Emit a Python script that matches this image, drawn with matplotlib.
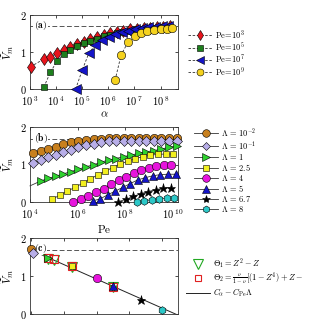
import numpy as np
import matplotlib
matplotlib.use("Agg")
import matplotlib.pyplot as plt
from matplotlib.ticker import FixedLocator, FuncFormatter, NullLocator
from matplotlib.lines import Line2D

plt.rcParams["mathtext.fontset"] = "cm"
plt.rcParams["font.family"] = "serif"
plt.rcParams["font.serif"] = ["DejaVu Serif"]

# ---- panel (a): V_m vs alpha, one series per Pe (log10 alpha, V) ----
pe_labels = ["3", "5", "7", "9"]
a_red_x = [3.02, 3.53, 3.78, 4.04, 4.29, 4.55, 4.80, 5.05, 5.31, 5.56, 5.82,
           6.07, 6.33, 6.58, 6.84, 7.09, 7.35, 7.60, 7.86, 8.11, 8.37]
a_red_y = [0.60, 0.81, 0.87, 0.97, 1.05, 1.13, 1.21, 1.28, 1.34, 1.40, 1.45,
           1.50, 1.54, 1.58, 1.61, 1.63, 1.65, 1.66, 1.67, 1.68, 1.69]
a_green_x = [3.53, 3.78, 4.04, 4.29, 4.55, 4.80, 5.05, 5.31, 5.56, 5.82,
             6.07, 6.33, 6.58, 6.84, 7.09, 7.35, 7.60, 7.86, 8.11, 8.37]
a_green_y = [0.05, 0.45, 0.76, 0.95, 1.05, 1.15, 1.23, 1.30, 1.36, 1.42,
             1.47, 1.51, 1.55, 1.58, 1.61, 1.63, 1.65, 1.66, 1.67, 1.68]
a_blue_x = [4.75, 5.00, 5.25, 5.50, 5.76, 6.01, 6.26, 6.52, 6.77, 7.03,
            7.28, 7.53, 7.79, 8.04, 8.30]
a_blue_y = [0.00, 0.51, 0.96, 1.19, 1.33, 1.41, 1.48, 1.54, 1.58, 1.62,
            1.65, 1.67, 1.68, 1.69, 1.70]
a_yellow_x = [6.26, 6.49, 6.75, 7.03, 7.24, 7.50, 7.75, 8.01, 8.24, 8.45]
a_yellow_y = [0.24, 0.92, 1.26, 1.44, 1.51, 1.56, 1.59, 1.61, 1.63, 1.66]

# ---- panel (b): V_m vs Pe, one series per Lambda (log10 Pe, V) ----
lam_labels = [r"10^{-2}", r"10^{-1}", "1", "2.5", "4", "5", "6.7", "8"]
b_orange_x = [4.14, 4.45, 4.77, 5.09, 5.40, 5.71, 6.03, 6.35, 6.67, 6.98,
              7.30, 7.62, 7.94, 8.25, 8.57, 8.89, 9.21, 9.52, 9.84, 10.16]
b_orange_y = [1.31, 1.37, 1.42, 1.48, 1.54, 1.59, 1.63, 1.66, 1.68, 1.69,
              1.70, 1.70, 1.70, 1.70, 1.70, 1.70, 1.70, 1.70, 1.70, 1.70]
b_lav_x = b_orange_x
b_lav_y = [1.03, 1.11, 1.19, 1.26, 1.33, 1.40, 1.46, 1.51, 1.55, 1.59,
           1.62, 1.63, 1.64, 1.64, 1.64, 1.64, 1.64, 1.64, 1.64, 1.64]
b_green_x = [4.00, 4.45, 4.77, 5.09, 5.40, 5.71, 6.03, 6.35, 6.67, 6.98,
             7.30, 7.62, 7.94, 8.25, 8.57, 8.89, 9.21, 9.52, 9.84, 10.16]
b_green_y = [0.43, 0.56, 0.63, 0.69, 0.75, 0.81, 0.87, 0.94, 0.99, 1.06,
             1.12, 1.16, 1.21, 1.25, 1.30, 1.34, 1.37, 1.41, 1.46, 1.49]
b_yellow_x = [4.94, 5.25, 5.57, 5.89, 6.21, 6.52, 6.84, 7.16, 7.48, 7.79,
              8.11, 8.43, 8.75, 9.06, 9.38, 9.70, 10.02]
b_yellow_y = [0.08, 0.18, 0.29, 0.39, 0.50, 0.61, 0.72, 0.82, 0.92, 1.01,
              1.09, 1.16, 1.21, 1.25, 1.27, 1.28, 1.28]
b_mag_x = [5.82, 6.14, 6.45, 6.77, 7.09, 7.40, 7.72, 8.04, 8.36, 8.67,
           8.99, 9.31, 9.63, 9.94]
b_mag_y = [0.01, 0.07, 0.16, 0.26, 0.36, 0.47, 0.58, 0.68, 0.78, 0.86,
           0.92, 0.96, 0.98, 0.98]
b_blue_x = [6.63, 6.94, 7.26, 7.58, 7.90, 8.21, 8.53, 8.85, 9.17, 9.48,
            9.80, 10.12]
b_blue_y = [0.03, 0.08, 0.19, 0.29, 0.39, 0.49, 0.59, 0.65, 0.70, 0.73,
            0.74, 0.74]
b_black_x = [7.71, 8.03, 8.34, 8.66, 8.98, 9.29, 9.61, 9.93]
b_black_y = [0.01, 0.07, 0.15, 0.22, 0.28, 0.33, 0.37, 0.38]
b_cyan_x = [8.48, 8.80, 9.11, 9.43, 9.75, 10.06]
b_cyan_y = [0.00, 0.03, 0.06, 0.08, 0.10, 0.10]

# ---- panel (c): V_m vs Lambda ----
c_lam = [0.01, 0.1, 1.0, 2.5, 4.0, 5.0, 6.7, 8.0]
c_v = [1.70, 1.60, 1.48, 1.27, 0.96, 0.74, 0.37, 0.10]
c_theta_lam = [1.0, 1.4, 2.5, 5.0]
c_theta1 = [1.46, 1.41, 1.23, 0.70]
c_theta2 = [1.48, 1.44, 1.26, 0.72]
C_alpha = 1.68
C_pe = 0.19
V_inf = 1.69

W, H = 318, 321
fig = plt.figure(figsize=(W / 100, H / 100), dpi=100)
ax_a = fig.add_axes([30 / W, 1 - 89 / H, 148 / W, 74 / H])
ax_b = fig.add_axes([30 / W, 1 - 202 / H, 148 / W, 75 / H])
ax_c = fig.add_axes([30 / W, 1 - 314 / H, 148 / W, 76 / H])


def style(ax):
    ax.tick_params(direction="in", top=True, right=True, length=2.5, width=0.5,
                   labelsize=7.5, pad=2.5)
    ax.tick_params(axis="x", pad=4)
    for s in ax.spines.values():
        s.set_linewidth(0.6)
        s.set_color("#333333")
    ax.set_ylim(0, 2)
    ax.yaxis.set_major_locator(FixedLocator([0, 1, 2]))
    ax.yaxis.set_major_formatter(FuncFormatter(lambda v, p: r"$%d$" % v))
    ax.set_ylabel(r"$\widetilde{V}_m$", fontsize=8, labelpad=3)
    ax.axhline(V_inf, color="#555555", lw=0.7, dashes=(5, 2.5), zorder=1)


log_fmt = FuncFormatter(lambda v, p: r"$10^{\;%d}$" % round(np.log10(v)))
edge = dict(mec="black", mew=0.4, clip_on=False, zorder=3)
leg_kw = dict(bbox_transform=fig.transFigure, frameon=False, fontsize=6,
              handlelength=2.9, handletextpad=0.3, borderpad=0,
              borderaxespad=0, loc="upper left")

# (a)
style(ax_a)
ax_a.set_xscale("log")
ax_a.set_xlim(1e3, 10 ** 8.67)
ax_a.xaxis.set_major_locator(FixedLocator([10.0 ** k for k in range(3, 9)]))
ax_a.xaxis.set_major_formatter(log_fmt)
ax_a.xaxis.set_minor_locator(NullLocator())
ax_a.set_xlabel(r"$\alpha$", fontsize=8, labelpad=1)
a_series = [(a_red_x, a_red_y, "d", "#e8141c", 6.5),
            (a_green_x, a_green_y, "s", "#1d7f1d", 5.0),
            (a_blue_x, a_blue_y, "<", "#1414c8", 6.5),
            (a_yellow_x, a_yellow_y, "o", "#f5d21e", 6.0)]
a_handles = []
for (xs, ys, m, c, ms), lab in zip(a_series, pe_labels):
    ax_a.plot(10 ** np.array(xs), ys, color="#333333", lw=0.6, dashes=(3, 2),
              marker=m, mfc=c, ms=ms, **edge)
    a_handles.append(Line2D([], [], color="#333333", lw=0.6, dashes=(3, 2),
                            marker=m, mfc=c, mec="black", mew=0.4, ms=ms - 1,
                            label=r"$\mathrm{Pe}\!=\!10^{%s}$" % lab))
ax_a.text(0.025, 0.95, r"$\mathbf{(a)}$", transform=ax_a.transAxes, fontsize=7,
          va="top", ha="left", bbox=dict(fc="white", ec="none", pad=0.5), zorder=2)
ax_a.legend(handles=a_handles, bbox_to_anchor=(188 / W, 1 - 28 / H),
            labelspacing=-0.05, **leg_kw)

# (b)
style(ax_b)
ax_b.set_xscale("log")
ax_b.set_xlim(1e4, 10 ** 10.22)
ax_b.xaxis.set_major_locator(FixedLocator([1e4, 1e6, 1e8, 1e10]))
ax_b.xaxis.set_major_formatter(log_fmt)
ax_b.xaxis.set_minor_locator(NullLocator())
ax_b.set_xlabel(r"$\mathrm{Pe}$", fontsize=8, labelpad=1)
b_series = [(b_orange_x, b_orange_y, "o", "#c8801e", 6.0),
            (b_lav_x, b_lav_y, "D", "#b8aee8", 5.0),
            (b_green_x, b_green_y, ">", "#2ed22e", 6.0),
            (b_yellow_x, b_yellow_y, "s", "#f2ef1e", 5.0),
            (b_mag_x, b_mag_y, "o", "#e614dc", 6.0),
            (b_blue_x, b_blue_y, "^", "#1414c8", 6.0),
            (b_black_x, b_black_y, "*", "black", 6.5),
            (b_cyan_x, b_cyan_y, "h", "#2cc8c8", 5.5)]
b_handles = []
for (xs, ys, m, c, ms), lab in zip(b_series, lam_labels):
    mk = list(range(1, len(xs))) if xs[0] == 4.0 else None
    ax_b.plot(10 ** np.array(xs), ys, color="#333333", lw=0.6, marker=m, mfc=c,
              ms=ms, markevery=mk, **edge)
    b_handles.append(Line2D([], [], color="#333333", lw=0.6, marker=m, mfc=c,
                            mec="black", mew=0.4, ms=ms - 0.5,
                            label=r"$\Lambda\,=\,%s$" % lab))
ax_b.text(0.025, 0.95, r"$\mathbf{(b)}$", transform=ax_b.transAxes, fontsize=7,
          va="top", ha="left", bbox=dict(fc="white", ec="none", pad=0.5), zorder=2)
ax_b.legend(handles=b_handles, bbox_to_anchor=(194 / W, 1 - 126 / H),
            labelspacing=0.0, **leg_kw)

# (c)
style(ax_c)
ax_c.set_xlim(-0.08, 9.0)
ax_c.xaxis.set_major_locator(FixedLocator([0, 2, 4, 6, 8]))
ax_c.xaxis.set_major_formatter(FuncFormatter(lambda v, p: r"$%d$" % v))
lam_line = np.array([0.0, 9.0])
ax_c.plot(lam_line, C_alpha - C_pe * lam_line, color="#222222", lw=0.7, zorder=2)
ax_c.plot(c_theta_lam, c_theta1, ls="none", marker="v", mfc="none", mec="#22a822",
          mew=0.8, ms=7, zorder=3)
ax_c.plot(c_theta_lam, c_theta2, ls="none", marker="s", mfc="none", mec="#e02020",
          mew=0.8, ms=5.5, zorder=3)
for lam, v, (xs, ys, m, c, ms) in zip(c_lam, c_v, b_series):
    ax_c.plot([lam], [v], ls="none", marker=m, mfc=c, ms=ms, **edge)
ax_c.text(0.025, 0.95, r"$\mathbf{(c)}$", transform=ax_c.transAxes, fontsize=7,
          va="top", ha="left", bbox=dict(fc="white", ec="none", pad=0.5), zorder=2)
c_handles = [
    Line2D([], [], ls="none", marker="v", mfc="none", mec="#22a822", mew=0.8, ms=7,
           label=r"$\Theta_1 = Z^2 - Z$"),
    Line2D([], [], ls="none", marker="s", mfc="none", mec="#e02020", mew=0.8, ms=5,
           label=r"$\Theta_2 = \frac{\nu}{1-\nu}[(1-Z^4)+Z-$"),
    Line2D([], [], color="#222222", lw=0.7,
           label=r"$C_\alpha - C_{\mathrm{Pe}}\Lambda$"),
]
ax_c.legend(handles=c_handles, bbox_to_anchor=(186 / W, 1 - 257 / H),
            labelspacing=-0.05, **leg_kw)

fig.savefig("out.png", dpi=100)
